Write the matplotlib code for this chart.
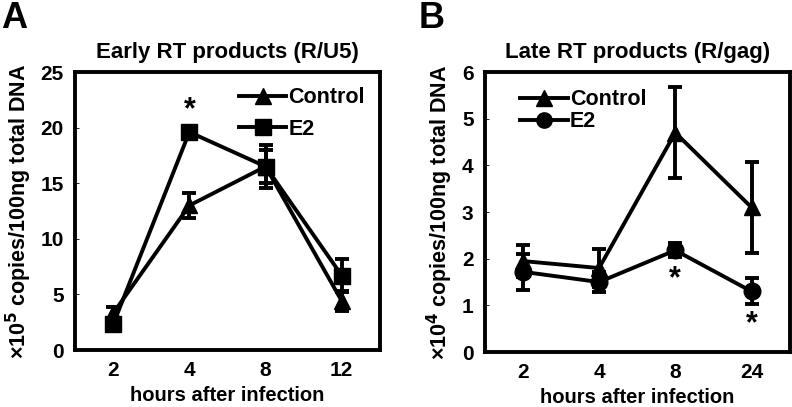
import matplotlib.pyplot as plt
from matplotlib.lines import Line2D
import numpy as np

plt.rcParams['font.family'] = ['Liberation Sans', 'DejaVu Sans']
plt.rcParams['font.weight'] = 'bold'

# panel A: early RT products
hours_a = ['2', '4', '8', '12']
ctrl_a = [3.3, 13.0, 16.5, 4.4]
ctrl_a_err = [0.6, 1.1, 1.5, 0.9]
e2_a = [2.3, 19.6, 16.5, 6.7]
e2_a_err = [0.4, 0.5, 1.9, 1.5]

# panel B: late RT products
hours_b = ['2', '4', '8', '24']
ctrl_b = [1.95, 1.8, 4.7, 3.1]
ctrl_b_err = [0.35, 0.4, 0.97, 0.98]
e2_b = [1.72, 1.5, 2.18, 1.3]
e2_b_err = [0.38, 0.22, 0.15, 0.28]

fig = plt.figure(figsize=(7.92, 4.07), dpi=100)
ax_a = fig.add_axes([0.0947, 0.14, 0.385, 0.683])
ax_b = fig.add_axes([0.612, 0.135, 0.385, 0.688])


def style(ax, labels, ymax, step, ylabel, title):
    x = np.arange(len(labels))
    ax.set_xlim(-0.5, len(labels) - 0.5)
    ax.set_ylim(0, ymax)
    ax.set_xticks(x)
    ax.set_xticklabels(labels)
    ax.set_yticks(np.arange(0, ymax + 0.01, step))
    ax.tick_params(axis='x', length=0, labelsize=15, pad=8)
    ax.tick_params(axis='y', direction='in', length=3, width=0.6, labelsize=15, pad=8)
    for s in ax.spines.values():
        s.set_linewidth(2.8)
    ax.set_xlabel('hours after infection', fontsize=14.5, fontweight='bold', labelpad=4)
    ax.set_ylabel(ylabel, fontsize=15.5, fontweight='bold', labelpad=5)
    ax.set_title(title, fontsize=16, fontweight='bold', pad=10)


def handles(mk):
    return [Line2D([], [], color='black', lw=2.8, marker='^', markersize=11),
            Line2D([], [], color='black', lw=2.8, marker=mk, markersize=11)]


x = np.arange(4)
kw = dict(color='black', lw=2.8, elinewidth=2.8, capsize=5, capthick=2.8, markersize=12)
ax_a.errorbar(x, ctrl_a, yerr=ctrl_a_err, marker='^', **kw)
ax_a.errorbar(x, e2_a, yerr=e2_a_err, marker='s', **kw)
ax_a.text(1, 21.6, '*', ha='center', va='center', fontsize=22)
style(ax_a, hours_a, 25, 5, r'×10$^\mathbf{5}$ copies/100ng total DNA', 'Early RT products (R/U5)')
ax_a.legend(handles('s'), ['Control', 'E2'], loc='upper right', frameon=False, fontsize=15.5,
            handlelength=2.2, handletextpad=0.1, borderaxespad=0.3, labelspacing=0.5)

ax_b.errorbar(x, ctrl_b, yerr=ctrl_b_err, marker='^', **kw)
ax_b.errorbar(x, e2_b, yerr=e2_b_err, marker='o', **kw)
ax_b.text(2, 1.55, '*', ha='center', va='center', fontsize=22)
ax_b.text(3, 0.6, '*', ha='center', va='center', fontsize=22)
style(ax_b, hours_b, 6, 1, r'×10$^\mathbf{4}$ copies/100ng total DNA', 'Late RT products (R/gag)')
ax_b.legend(handles('o'), ['Control', 'E2'], loc='upper left', bbox_to_anchor=(0.06, 1),
            frameon=False, fontsize=15.5, handlelength=2.2, handletextpad=0.1,
            borderaxespad=0.4, labelspacing=0.05)

fig.text(0.002, 0.998, 'A', fontsize=26, fontweight='bold', va='top', ha='left')
fig.text(0.528, 0.998, 'B', fontsize=26, fontweight='bold', va='top', ha='left')

fig.savefig('out.png', dpi=100)
